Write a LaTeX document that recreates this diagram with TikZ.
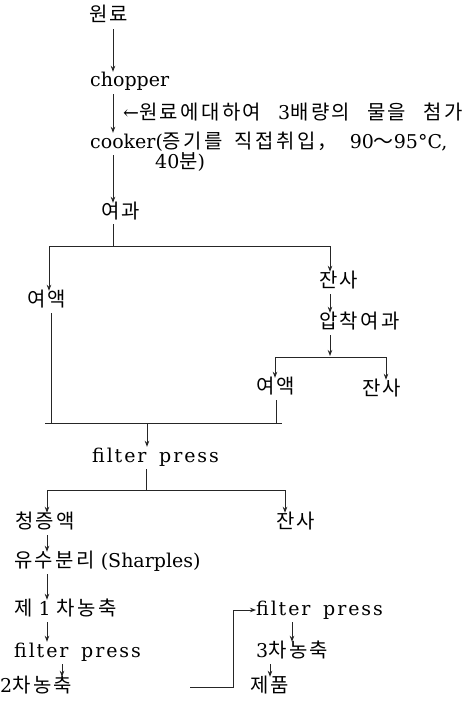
\documentclass[tikz,border=0pt]{standalone}
\usepackage{fontspec}
\setmainfont{DejaVu Serif}
\newfontfamily\spaced{DejaVu Serif}[LetterSpace=10,WordSpace=1.6]
\newfontfamily\kr{Noto Sans CJK KR}[Scale=1.05,LetterSpace=12]
\newcommand\kgap{\hspace{17pt}}
\newcommand\cgap{\hspace{12pt}}
\usetikzlibrary{arrows.meta}
\begin{document}
\begin{tikzpicture}[x=1pt,y=-1pt,
  txt/.style={anchor=west,inner sep=0pt,text height=14pt,text depth=4pt,font=\fontsize{19}{21}\selectfont},
  ln/.style={line width=0.8pt,draw=black!85},
  tip/.style={-{Stealth[length=6pt,width=4.5pt]}},
  arr/.style={ln,tip,shorten <=3pt,shorten >=1pt}]
\useasboundingbox[fill=white] (0,0) rectangle (470,706);
% nodes
\node[txt] (n1) at (89,17) {{\kr 원료}};
\node[txt] (n2) at (90,82) {chopper};
\node[txt] (n3) at (123,115) {←{\kr 원료에대하여}\kgap 3{\kr 배량의}\kgap{\kr 물을}\kgap{\kr 첨가}};
\node[txt] (n4) at (90,143) {cooker({\kr 증기를}\cgap{\kr 직접취입，}\cgap 90{\kr ～}95°C,};
\node[txt] (n5) at (155,163) {40{\kr 분})};
\node[txt] (n6) at (101,213) {{\kr 여과}};
\node[txt] (n7) at (27,301) {{\kr 여액}};
\node[txt] (n8) at (319,282) {{\kr 잔사}};
\node[txt] (n9) at (319,323) {{\kr 압착여과}};
\node[txt] (n10) at (256,388) {{\kr 여액}};
\node[txt] (n11) at (362,390) {{\kr 잔사}};
\node[txt] (n12) at (92,457) {{\spaced filter press}};
\node[txt] (n13) at (15,523) {{\kr 청증액}};
\node[txt] (n14) at (276,523) {{\kr 잔사}};
\node[txt] (n15) at (14,562) {{\kr 유수분리} (Sharples)};
\node[txt] (n16) at (14,610) {{\kr 제} 1 {\kr 차농축}};
\node[txt] (n17) at (14,652) {{\spaced filter press}};
\node[txt] (n18) at (0,687) {2{\kr 차농축}};
\node[txt] (n19) at (256,610) {{\spaced filter press}};
\node[txt] (n20) at (256,652) {3{\kr 차농축}};
\node[txt] (n21) at (250,687) {{\kr 제품}};
% column coordinates
\coordinate (xA) at (113,0);
\coordinate (xB) at (330,0);
\coordinate (xD) at (47,0);
\coordinate (xE) at (62,0);
\coordinate (xF) at (292,0);
\coordinate (xG) at (270,0);
% branch coordinates
\coordinate (b1) at (113,246);
\coordinate (b1L) at (49,246);
\coordinate (b1R) at (330,246);
\coordinate (b2) at (330,357);
\coordinate (b2L) at (275,357);
\coordinate (b2R) at (386,357);
\coordinate (b3L) at (51,423);
\coordinate (b3R) at (276,423);
\coordinate (b3) at (147,423);
\coordinate (b4) at (146,490);
\coordinate (b4L) at (47,490);
\coordinate (b4R) at (285,490);
\coordinate (c2s) at (190,687);
% connectors
\draw[arr] (n1.south -| xA) -- (n2.north -| xA);
\draw[arr] (n2.south -| xA) -- (n4.north -| xA);
\draw[arr] (n4.south -| xA) -- (n6.north -| xA);
\draw[ln,shorten <=2pt] (n6.south -| xA) -- (b1);
\draw[ln] (b1L) -- (b1R);
\draw[arr,shorten <=0pt] (b1L) -- (n7.north -| b1L);
\draw[arr,shorten <=0pt] (b1R) -- (n8.north -| b1R);
\draw[arr] (n8.south -| xB) -- (n9.north -| xB);
\draw[arr] (n9.south -| xB) -- (b2);
\draw[ln] (b2L) -- (b2R);
\draw[arr,shorten <=0pt] (b2L) -- (n10.north -| b2L);
\draw[arr,shorten <=0pt] (b2R) -- (n11.north -| b2R);
\draw[ln,shorten <=3pt] (n7.south -| b3L) -- (b3L);
\draw[ln,shorten <=3pt] (n10.south -| b3R) -- (b3R);
\draw[ln] ([xshift=-6pt]b3L) -- ([xshift=6pt]b3R);
\draw[arr,shorten <=0pt] (b3) -- (n12.north -| b3);
\draw[ln,shorten <=3pt] (n12.south -| b4) -- (b4);
\draw[ln] (b4L) -- (b4R);
\draw[arr,shorten <=0pt] (b4L) -- (n13.north -| b4L);
\draw[arr,shorten <=0pt] (b4R) -- (n14.north -| b4R);
\draw[arr] (n13.south -| xD) -- (n15.north -| xD);
\draw[arr] (n15.south -| xD) -- (n16.north -| xD);
\draw[arr] (n16.south -| xD) -- (n17.north -| xD);
\draw[arr] (n17.south -| xE) -- (n18.north -| xE);
\draw[ln,tip] (c2s) -- ++(43,0) |- (n19.west);
\draw[arr] (n19.south -| xF) -- (n20.north -| xF);
\draw[arr] (n20.south -| xG) -- (n21.north -| xG);
\end{tikzpicture}
\end{document}
